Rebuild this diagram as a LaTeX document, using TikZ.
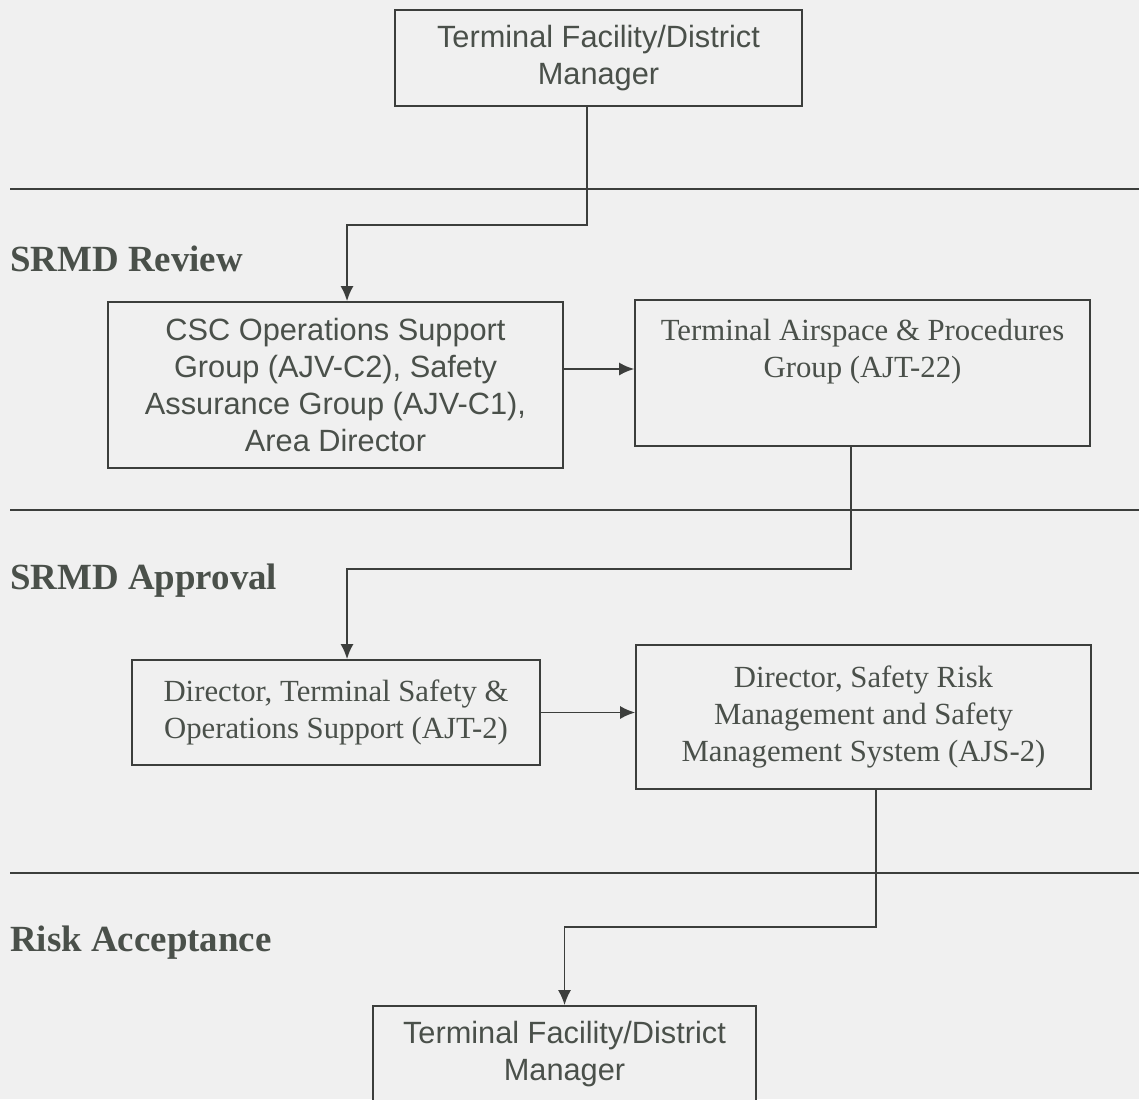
\documentclass[tikz,border=0pt]{standalone}
\usepackage{fontspec}
\setmainfont{Liberation Serif}
\setsansfont{Liberation Sans}
\usetikzlibrary{arrows.meta}
\definecolor{bgcol}{HTML}{F0F0F0}
\definecolor{inkcol}{HTML}{3C3E3C}
\definecolor{txtcol}{HTML}{4A504A}

\begin{document}
\begin{tikzpicture}[x=0.02cm,y=-0.02cm,
		orgbox/.style={draw=inkcol, line width=1pt, fill=bgcol, text=txtcol, align=center, inner sep=2pt, font=\fontsize{17.5pt}{21pt}\selectfont},
		sansbox/.style={orgbox, font=\sffamily\fontsize{17.5pt}{21pt}\selectfont},
		phase/.style={anchor=west, inner sep=0pt, text=txtcol, font=\bfseries\fontsize{21pt}{25pt}\selectfont},
		link/.style={draw=inkcol, line width=1pt, -{Latex[length=0.3cm,width=0.26cm]}}]
		\fill[bgcol] (0,0) rectangle (1139,1099);
		\useasboundingbox (0,0) rectangle (1139,1099);
		
		\foreach \y in {189, 510, 873}{
			\draw[inkcol, line width=1pt] (10,\y) -- (1139,\y);
		}
		\node[phase] (review) at (10,259) {SRMD Review};
		\node[phase] (approval) at (10,581) {SRMD Approval};
		\node[phase] (accept) at (10,943) {Risk Acceptance};
		
		\node[sansbox, minimum width=8.14cm, minimum height=1.92cm] (mgr) at (598.5,58) {Terminal Facility/District\\Manager};
		\node[sansbox, minimum width=9.1cm, minimum height=3.32cm] (csc) at (335.5,385) {CSC Operations Support\\Group (AJV-C2), Safety\\Assurance Group (AJV-C1),\\Area Director};
		\node[orgbox, minimum width=9.1cm, minimum height=2.92cm] (tap) at (862.5,373) {Terminal Airspace \& Procedures\\Group (AJT-22)\\[0.24cm]\mbox{}};
		\node[orgbox, minimum width=8.16cm, minimum height=2.1cm] (tsos) at (336,712.5) {Director, Terminal Safety \&\\Operations Support (AJT-2)};
		\node[orgbox, minimum width=9.1cm, minimum height=2.88cm] (srm) at (863.5,717) {Director, Safety Risk\\Management and Safety\\Management System (AJS-2)};
		\node[sansbox, minimum width=7.66cm, minimum height=1.92cm] (mgrend) at (564.5,1054) {Terminal Facility/District\\Manager};
		
		\draw[link] ([xshift=-0.23cm]mgr.south) -- ++(0,118) -| ([xshift=0.23cm]csc.north);
		\draw[link] ([yshift=0.32cm]csc.east) -- ([yshift=0.08cm]tap.west);
		\draw[link] ([xshift=-0.23cm]tap.south) -- ++(0,122) -| ([xshift=0.22cm]tsos.north);
		\draw[link] (tsos.east) -- (tsos.east -| srm.west);
		\draw[link] ([xshift=0.25cm]srm.south) -- ++(0,137) -| (mgrend.north);
	\end{tikzpicture}
\end{document}
